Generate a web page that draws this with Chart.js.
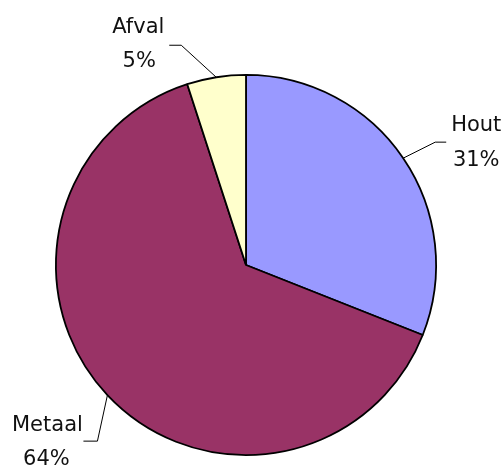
<!DOCTYPE html>
<html>
<head>
<meta charset="utf-8">
<script src="https://cdn.jsdelivr.net/npm/chart.js@4/dist/chart.umd.min.js"></script>
<style>
  html, body { margin: 0; padding: 0; background: #fff; }
  #wrap { width: 504px; height: 468px; }
</style>
</head>
<body>
<div id="wrap"><canvas id="pieChart" width="504" height="468"></canvas></div>
<script>
// data
const categories = ['Hout', 'Metaal', 'Afval'];
const values = [31, 64, 5];
const sliceColors = ['#9999FF', '#993366', '#FFFFCC'];

// label placement: elbow offset from slice edge, then horizontal run, then text offsets
const labelLayout = [
    { elbow: [32, -16], run: 11, name: [30, -17], pct: [30, 18] },
    { elbow: [-10, 46], run: -14, name: [-36, -16], pct: [-37, 18] },
    { elbow: [-35, -32], run: -12, name: [-31, -18], pct: [-30, 16] }
];

const pieLabels = {
    id: 'pieLabels',
    afterDatasetsDraw(chart) {
        const ctx = chart.ctx;
        const meta = chart.getDatasetMeta(0);
        const total = values.reduce((a, b) => a + b, 0);
        ctx.save();
        meta.data.forEach(function (arc, i) {
            const p = arc.getProps(['x', 'y', 'startAngle', 'endAngle', 'outerRadius'], true);
            const mid = (p.startAngle + p.endAngle) / 2;
            const sx = p.x + Math.cos(mid) * p.outerRadius;
            const sy = p.y + Math.sin(mid) * p.outerRadius;
            const lay = labelLayout[i];
            const ex = sx + lay.elbow[0];
            const ey = sy + lay.elbow[1];
            const tx = ex + lay.run;

            // leader line
            ctx.strokeStyle = '#000';
            ctx.lineWidth = 1;
            ctx.beginPath();
            ctx.moveTo(sx, sy);
            ctx.lineTo(ex, ey);
            ctx.lineTo(tx, ey);
            ctx.stroke();

            // text
            ctx.fillStyle = '#111';
            ctx.font = '21px "DejaVu Sans", Verdana, sans-serif';
            ctx.textAlign = 'center';
            ctx.textBaseline = 'middle';
            ctx.fillText(categories[i], tx + lay.name[0], ey + lay.name[1]);
            ctx.fillText(Math.round(values[i] / total * 100) + '%', tx + lay.pct[0], ey + lay.pct[1]);
        });
        ctx.restore();
    }
};

new Chart(document.getElementById('pieChart'), {
    type: 'pie',
    data: {
        labels: categories,
        datasets: [{
            data: values,
            backgroundColor: sliceColors,
            borderColor: '#000',
            borderWidth: 1.8
        }]
    },
    options: {
        responsive: false,
        animation: false,
        layout: { padding: { top: 74, bottom: 12, left: 55, right: 67 } },
        plugins: {
            legend: { display: false },
            tooltip: { enabled: false }
        }
    },
    plugins: [pieLabels]
});
</script>
</body>
</html>
